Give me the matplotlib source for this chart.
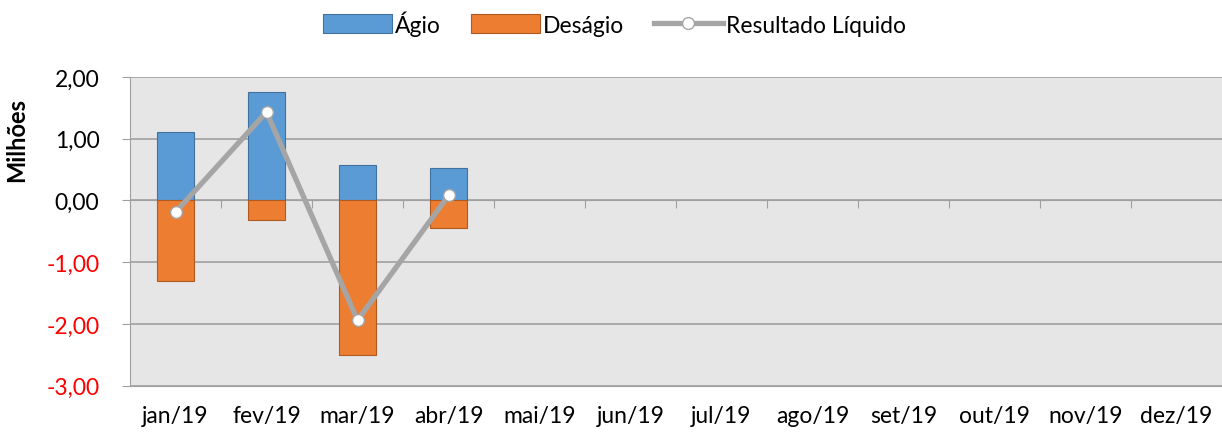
import numpy as np
import matplotlib
matplotlib.use("Agg")
from matplotlib import pyplot as plt

plt.rcParams['font.family'] = ['Lato', 'DejaVu Sans']

meses = ['jan/19', 'fev/19', 'mar/19', 'abr/19', 'mai/19', 'jun/19',
         'jul/19', 'ago/19', 'set/19', 'out/19', 'nov/19', 'dez/19']
agio = [1.10, 1.75, 0.57, 0.53]
desagio = [-1.30, -0.32, -2.51, -0.45]
resultado = [-0.19, 1.43, -1.94, 0.08]

fs = 16.5

fig = plt.figure(figsize=(12.22, 4.35), dpi=100)
ax = fig.add_axes([0.1064, 0.111, 0.8936, 0.71])
ax.set_facecolor('#E6E6E6')

x = np.arange(len(agio))
b1 = ax.bar(x, agio, width=0.41, color='#5B9BD5', edgecolor='#41719C', linewidth=0.8,
            label='Ágio', zorder=3)
b2 = ax.bar(x, desagio, width=0.41, color='#ED7D31', edgecolor='#AE5A21', linewidth=0.8,
            label='Deságio', zorder=3)
l1, = ax.plot(x, resultado, color='#A5A5A5', lw=3.8, marker='o', ms=8.5,
              markerfacecolor='white', markeredgecolor='#A5A5A5', markeredgewidth=1,
              label='Resultado Líquido', zorder=4)

ax.set_xlim(-0.5, len(meses) - 0.5)
ax.set_ylim(-3, 2)
yt = np.arange(-3, 2.5, 1)
ax.set_yticks(yt)
ax.set_yticklabels([f'{v:.2f}'.replace('.', ',') for v in yt])
for t, v in zip(ax.get_yticklabels(), yt):
    t.set_color('red' if v < 0 else 'black')
ax.tick_params(axis='y', length=6, color='#A0A0A0', labelsize=fs, pad=16)
ax.grid(axis='y', color='#A0A0A0', lw=1.2, zorder=0)
ax.set_axisbelow(True)

for s in ['top', 'right']:
    ax.spines[s].set_visible(False)
ax.spines['left'].set_color('#A0A0A0')
ax.spines['bottom'].set_position(('data', 0))
ax.spines['bottom'].set_color('#A0A0A0')
ax.set_xticks(np.arange(len(meses) + 1) - 0.5)
ax.set_xticklabels([])
ax.tick_params(axis='x', length=6, color='#A0A0A0', direction='out')

sec = ax.secondary_xaxis('bottom')
sec.set_xticks(np.arange(len(meses)))
sec.set_xticklabels(meses)
sec.tick_params(length=0, labelsize=fs, pad=14)
sec.spines['bottom'].set_color('#A0A0A0')

ax.set_ylabel('Milhões', fontsize=17, fontweight='bold')
ax.yaxis.set_label_coords(-0.093, 0.8)

fig.legend([b1, b2, l1], ['Ágio', 'Deságio', 'Resultado Líquido'], loc='center',
           bbox_to_anchor=(0.503, 0.945), ncol=3, frameon=False, fontsize=fs,
           handlelength=3.0, handleheight=0.9, handletextpad=0.15, columnspacing=1.3)

fig.savefig('out.png', dpi=100)
